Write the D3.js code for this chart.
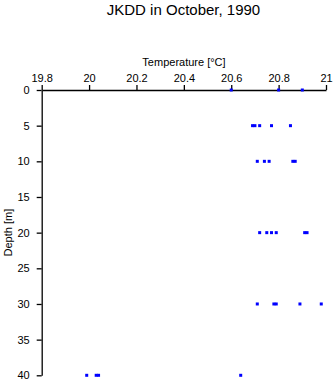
<!DOCTYPE html>
<html>
<head>
<meta charset="utf-8">
<script src="https://cdn.jsdelivr.net/npm/d3@7"></script>
<style>
  body { margin: 0; background: #fff; }
  text { font-family: Arial, "Liberation Sans", sans-serif; }
</style>
</head>
<body>
<div id="chart"></div>
<script>
// Temperature profile samples, grouped by depth
const depths = [0, 5, 10, 20, 30, 40];
const temps0 = [20.6, 20.8, 20.9];
const temps5 = [20.69, 20.7, 20.72, 20.77, 20.85];
const temps10 = [20.71, 20.74, 20.76, 20.86, 20.87];
const temps20 = [20.72, 20.75, 20.77, 20.79, 20.91, 20.92];
const temps30 = [20.71, 20.78, 20.79, 20.89, 20.98];
const temps40 = [19.99, 20.03, 20.04, 20.64];
const xTicks = [19.8, 20, 20.2, 20.4, 20.6, 20.8, 21];
const yTicks = [0, 5, 10, 15, 20, 25, 30, 35, 40];

const tempsByDepth = [temps0, temps5, temps10, temps20, temps30, temps40];
const points = [];
depths.forEach((d, i) => {
  tempsByDepth[i].forEach(t => points.push({ depth: d, temp: t }));
});

const width = 335, height = 384;

const svg = d3.select("#chart")
  .append("svg")
  .attr("width", width)
  .attr("height", height);

const x = d3.scaleLinear().domain([19.8, 21]).range([41.7, 326]);
const y = d3.scaleLinear().domain([0, 40]).range([90, 375.3]);

// title
svg.append("text")
  .attr("x", 183.5)
  .attr("y", 14.5)
  .attr("text-anchor", "middle")
  .attr("font-size", "15px")
  .text("JKDD in October, 1990");

// top axis
const xAxis = svg.append("g")
  .attr("transform", `translate(0,${y(0)})`)
  .call(d3.axisTop(x).tickValues(xTicks).tickSize(5).tickSizeOuter(0)
    .tickFormat(d3.format("")).tickPadding(3));

xAxis.selectAll("text")
  .attr("font-size", "11px")
  .attr("font-family", "Arial, 'Liberation Sans', sans-serif")
  .attr("fill", "#000");

svg.append("text")
  .attr("x", 184)
  .attr("y", 66)
  .attr("text-anchor", "middle")
  .attr("font-size", "11px")
  .text("Temperature [°C]");

// left axis
const yAxis = svg.append("g")
  .attr("transform", `translate(${x(19.8)},0)`)
  .call(d3.axisLeft(y).tickValues(yTicks).tickSize(5).tickSizeOuter(0).tickPadding(7));

yAxis.selectAll("text")
  .attr("font-size", "11px")
  .attr("font-family", "Arial, 'Liberation Sans', sans-serif")
  .attr("fill", "#000");

svg.selectAll(".domain, .tick line")
  .attr("stroke", "#000")
  .attr("stroke-width", 1.3);

svg.append("text")
  .attr("transform", `translate(12,${y(20)}) rotate(-90)`)
  .attr("text-anchor", "middle")
  .attr("font-size", "11px")
  .text("Depth [m]");

// data points
svg.append("g")
  .attr("fill", "#0000ff")
  .selectAll("rect")
  .data(points)
  .enter().append("rect")
  .attr("x", d => x(d.temp) - 1.5)
  .attr("y", d => y(d.depth) - 1.5)
  .attr("width", 3)
  .attr("height", 3);
</script>
</body>
</html>
